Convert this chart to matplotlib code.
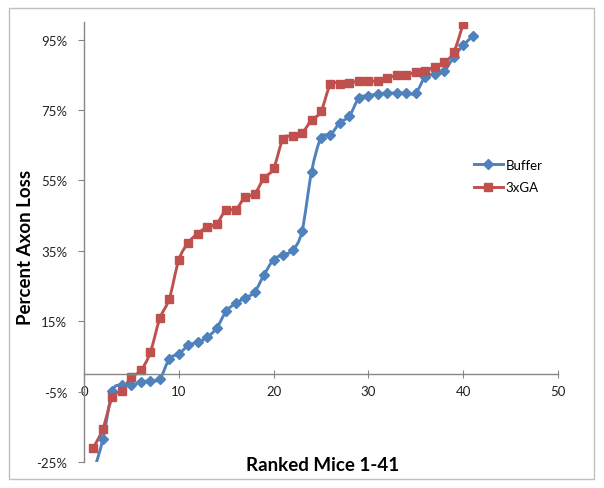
import matplotlib.pyplot as plt
import numpy as np
from matplotlib.path import Path
from matplotlib.patches import PathPatch, Rectangle
from matplotlib.lines import Line2D
from matplotlib.ticker import FuncFormatter

# ranked mice, percent axon loss
buffer_rank = list(range(1, 42))
buffer_loss = [-28.0, -18.4, -4.9, -3.2, -3.2, -2.3, -1.9, -1.4, 4.3, 5.7,
               8.1, 9.1, 10.4, 13.1, 17.8, 20.1, 21.6, 23.3, 28.2, 32.5,
               33.9, 35.1, 40.6, 57.4, 67.1, 68.0, 71.4, 73.3, 78.4, 79.0,
               79.6, 79.8, 79.8, 79.8, 79.8, 84.5, 85.1, 86.1, 90.0, 93.4,
               95.9]

ga_rank = list(range(1, 41))
ga_loss = [-20.9, -15.5, -6.5, -4.7, -0.9, 1.0, 6.2, 15.8, 21.4, 32.4,
           37.3, 39.9, 41.8, 42.7, 46.7, 46.7, 50.3, 51.2, 55.7, 58.4,
           66.8, 67.5, 68.5, 72.1, 74.6, 82.3, 82.5, 82.8, 83.1, 83.2,
           83.2, 84.0, 84.9, 84.9, 85.8, 86.1, 87.3, 88.6, 91.4, 99.5]

y_ticks = [-25, -5, 15, 35, 55, 75, 95]
x_ticks = [0, 10, 20, 30, 40, 50]

BLUE = '#4F81BD'
RED = '#C0504D'
AXIS = '#868686'
FONT = 'Lato'


def smooth_path(x, y):
    # Excel-like smoothed line (Catmull-Rom bezier through the points)
    pts = np.column_stack([x, y]).astype(float)
    p = np.vstack([pts[0], pts, pts[-1]])
    verts = [pts[0]]
    codes = [Path.MOVETO]
    for i in range(1, len(p) - 2):
        c1 = p[i] + (p[i + 1] - p[i - 1]) / 6
        c2 = p[i + 1] - (p[i + 2] - p[i]) / 6
        verts += [c1, c2, p[i + 1]]
        codes += [Path.CURVE4] * 3
    return Path(verts, codes)


fig = plt.figure(figsize=(6.04, 4.89), dpi=100)
ax = fig.add_axes([84 / 604, 1 - 463 / 489, (558 - 84) / 604, (463 - 23) / 489])

for x, y, c, m, ms in [(buffer_rank, buffer_loss, BLUE, 'D', 5),
                       (ga_rank, ga_loss, RED, 's', 6)]:
    ax.add_patch(PathPatch(smooth_path(x, y), fill=False, edgecolor=c, lw=2.1))
    ax.plot(x, y, ls='none', marker=m, ms=ms, color=c, mec=c)

ax.set_xlim(0, 50)
ax.set_ylim(-25, 100)
ax.set_xticks(x_ticks)
ax.set_yticks(y_ticks)
ax.yaxis.set_major_formatter(FuncFormatter(lambda v, p: f'{v:.0f}%'))

ax.spines['top'].set_visible(False)
ax.spines['right'].set_visible(False)
ax.spines['bottom'].set_position(('data', 0))
for s in ['left', 'bottom']:
    ax.spines[s].set_color(AXIS)
    ax.spines[s].set_linewidth(1.0)
ax.tick_params(axis='x', direction='inout', length=6, color=AXIS, pad=5,
               labelsize=9.5, labelcolor='#222222')
ax.tick_params(axis='y', direction='out', length=4, color=AXIS, pad=8,
               labelsize=9.5, labelcolor='#222222')
for lab in ax.get_xticklabels() + ax.get_yticklabels():
    lab.set_family(FONT)

fig.text(323 / 604, 1 - 466 / 489, 'Ranked Mice 1-41', ha='center', va='center',
         fontsize=13.5, fontweight='bold', family=FONT)
fig.text(26 / 604, 1 - 247 / 489, 'Percent Axon Loss', ha='center', va='center',
         rotation=90, fontsize=13.5, fontweight='bold', family=FONT)

handles = [Line2D([], [], color=BLUE, lw=2.1, marker='D', ms=5),
           Line2D([], [], color=RED, lw=2.1, marker='s', ms=6)]
leg = fig.legend(handles, ['Buffer', '3xGA'], loc='upper left',
                 bbox_to_anchor=(462 / 604, 1 - 148 / 489), frameon=False,
                 handlelength=2.2, handletextpad=0.2, labelspacing=0.8,
                 prop={'family': FONT, 'size': 9.5})

fig.patches.append(Rectangle((9 / 604, 1 - 480 / 489), 585 / 604, 471 / 489,
                             transform=fig.transFigure, fill=False,
                             edgecolor='#BFBFBF', lw=1.0))

fig.savefig('out.png', dpi=100)
